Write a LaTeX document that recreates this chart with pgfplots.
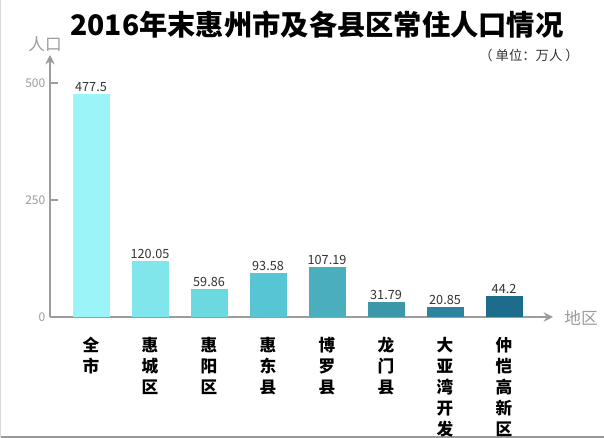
\documentclass[border=0pt]{standalone}
\usepackage{fontspec}
\setmainfont{Noto Sans CJK SC}
\usepackage{pgfplots}
\pgfplotsset{compat=1.18}
\usetikzlibrary{arrows.meta}
\definecolor{axgray}{HTML}{9C9C9C}
\definecolor{lblgray}{HTML}{333333}
\definecolor{cA}{HTML}{9AF4F8}
\definecolor{cB}{HTML}{80E6EC}
\definecolor{cC}{HTML}{6CD9E1}
\definecolor{cD}{HTML}{57C5D3}
\definecolor{cE}{HTML}{4AAEBE}
\definecolor{cF}{HTML}{3C97A9}
\definecolor{cG}{HTML}{2D829E}
\definecolor{cH}{HTML}{1D6C8C}
\begin{document}
\begin{tikzpicture}[x=0.75pt,y=0.75pt]
\path[use as bounding box] (0,0) rectangle (604,438);
\clip (0,0) rectangle (604,438);
\fill[white] (0,0) rectangle (604,438);
\draw[draw=gray!80, line width=1.2pt] (0,0.8) -- (604,0.8);
\draw[draw=gray!30, line width=0.6pt] (0.5,0) -- (0.5,438);
\node[font=\bfseries\fontsize{21.2}{24}\selectfont] at (317,413) {2016年末惠州市及各县区常住人口情况};
\node[font=\fontsize{10}{12}\selectfont, text=lblgray] at (529,383) {（ 单位：万人 ）};
\node[font=\fontsize{12.5}{14}\selectfont, text=axgray] at (45,394) {人口};
\node[font=\fontsize{12.5}{14}\selectfont, text=axgray] at (581,120) {地区};
\begin{axis}[
  at={(37.5pt,90.75pt)}, anchor=south west,
  width=377.25pt, height=196.5pt, scale only axis,
  xmin=-0.695, xmax=7.83, ymin=0, ymax=560,
  axis lines=left,
  axis line style={draw=axgray, line width=2pt, -{Stealth[length=7pt,width=7pt]}},
  ytick={0,250,500},
  /pgf/number format/assume math mode=true,
  yticklabel style={text=axgray, font=\fontsize{9}{10}\selectfont},
  y tick style={draw=axgray, line width=2pt},
  tick align=inside, major tick length=6pt,
  xtick={0,1,2,3,4,5,6,7},
  xticklabels={{全\\市},{惠\\城\\区},{惠\\阳\\区},{惠\\东\\县},{博\\罗\\县},{龙\\门\\县},{大\\亚\\湾\\开\\发\\区},{仲\\恺\\高\\新\\区}},
  x tick style={draw=none},
  xticklabel style={align=center, anchor=north, yshift=-5.5pt, font=\bfseries\fontsize{12.5}{15.75}\selectfont},
  ybar, bar width=27.75pt,
  nodes near coords,
  nodes near coords style={font=\fontsize{9.5}{10}\selectfont, text=lblgray, inner sep=1.5pt},
  point meta=explicit symbolic,
  clip=false,
]
\addplot[fill=cA, draw=none, bar shift=0pt] coordinates {(0,477.5) [477.5]};
\addplot[fill=cB, draw=none, bar shift=0pt] coordinates {(1,120.05) [120.05]};
\addplot[fill=cC, draw=none, bar shift=0pt] coordinates {(2,59.86) [59.86]};
\addplot[fill=cD, draw=none, bar shift=0pt] coordinates {(3,93.58) [93.58]};
\addplot[fill=cE, draw=none, bar shift=0pt] coordinates {(4,107.19) [107.19]};
\addplot[fill=cF, draw=none, bar shift=0pt] coordinates {(5,31.79) [31.79]};
\addplot[fill=cG, draw=none, bar shift=0pt] coordinates {(6,20.85) [20.85]};
\addplot[fill=cH, draw=none, bar shift=0pt] coordinates {(7,44.2) [44.2]};
\end{axis}
\end{tikzpicture}
\end{document}
